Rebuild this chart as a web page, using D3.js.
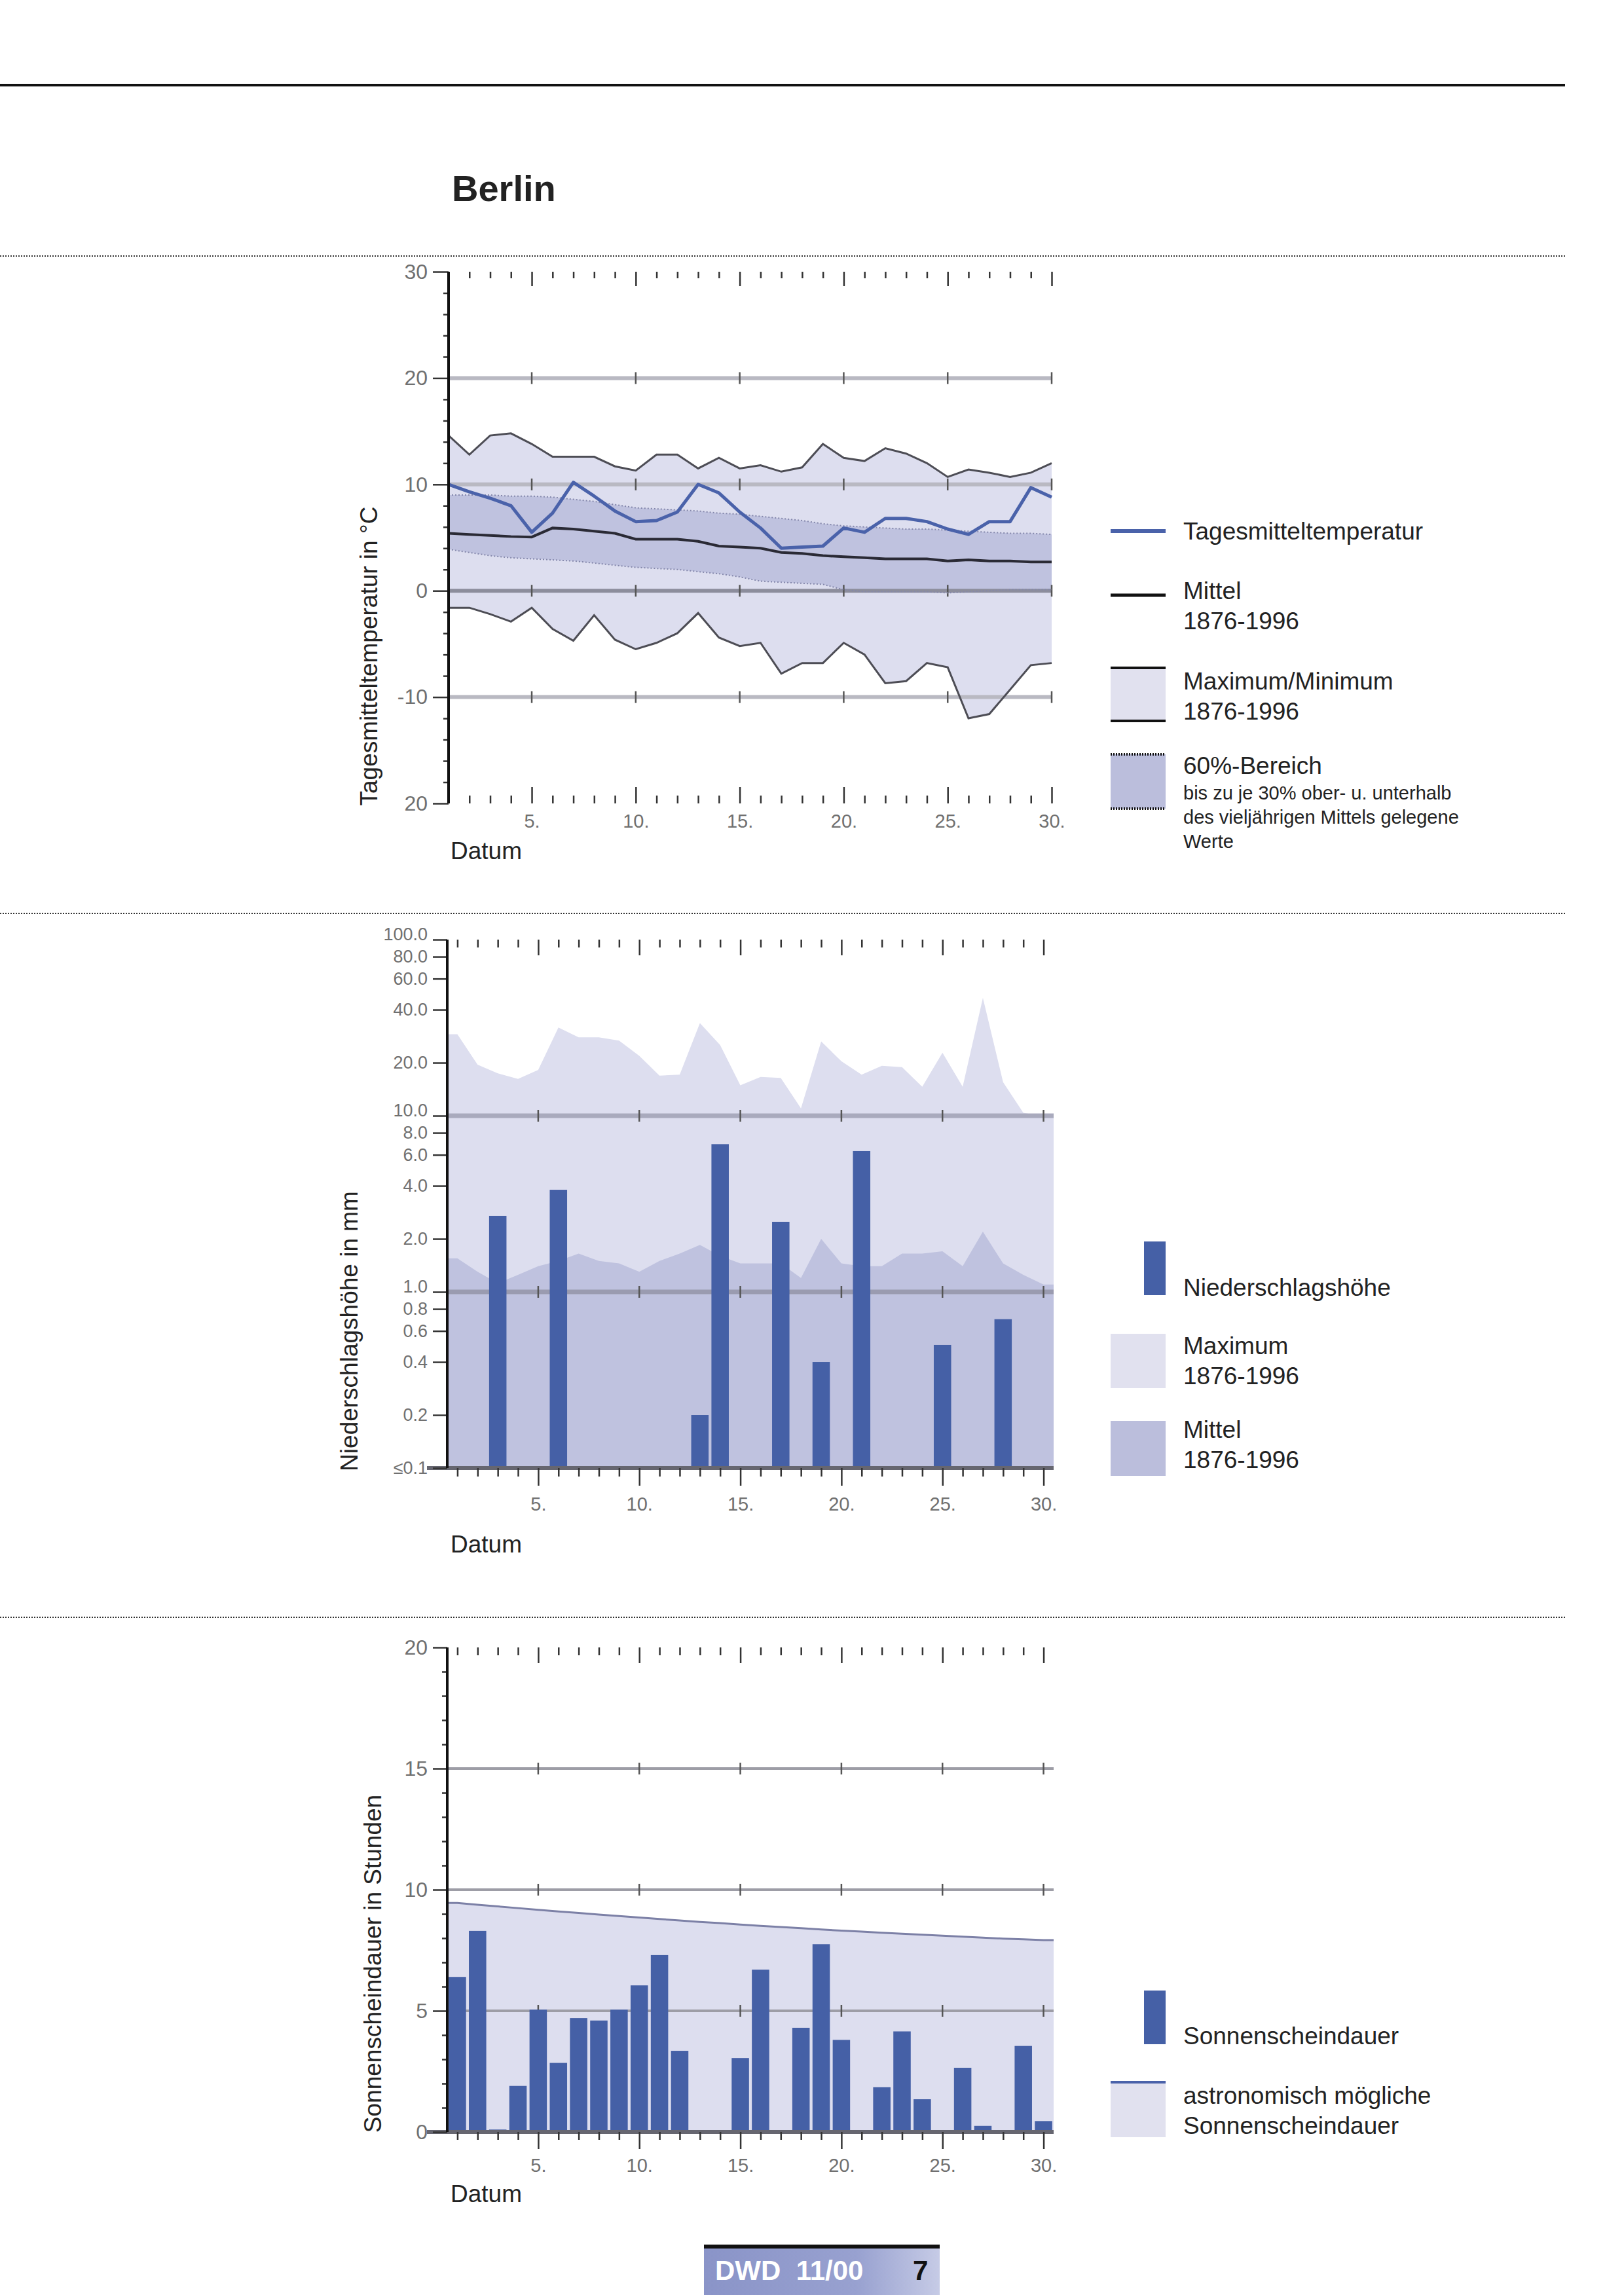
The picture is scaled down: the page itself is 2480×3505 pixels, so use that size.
<!DOCTYPE html>
<html lang="de">
<head>
<meta charset="UTF-8">
<title>Berlin – Temperatur, Niederschlag, Sonnenschein</title>
<style>
    body { margin: 0; padding: 0; background: #fff; }
    svg { display: block; }
    text { font-family: "Liberation Sans", Arial, sans-serif; fill: #222; }
    .tick text { fill: #707070; }
    .tick line { stroke: #333; }
</style>
</head>
<body>
<div id="page"></div>
<script src="https://cdnjs.cloudflare.com/ajax/libs/d3/7.8.5/d3.min.js"></script>
<script>
// Tage im Monat
const days = [1,2,3,4,5,6,7,8,9,10,11,12,13,14,15,16,17,18,19,20,21,22,23,24,25,26,27,28,29,30];
const fiveDays = [5, 10, 15, 20, 25, 30];

// Temperatur (°C)
const tempDaily  = [10.0, 9.3, 8.7, 8.0, 5.5, 7.3, 10.2, 8.9, 7.5, 6.5, 6.6, 7.4, 10.0, 9.2, 7.4, 5.9, 4.0, 4.1, 4.2, 5.9, 5.5, 6.8, 6.8, 6.5, 5.8, 5.3, 6.5, 6.5, 9.7, 8.8];
const tempNormal = [5.4, 5.3, 5.2, 5.1, 5.05, 5.9, 5.8, 5.6, 5.4, 4.85, 4.85, 4.85, 4.65, 4.2, 4.1, 4.0, 3.6, 3.5, 3.3, 3.2, 3.1, 3.0, 3.0, 3.0, 2.8, 2.9, 2.8, 2.8, 2.7, 2.7];
const tempMax    = [14.6, 12.8, 14.6, 14.8, 13.8, 12.6, 12.6, 12.6, 11.7, 11.3, 12.8, 12.8, 11.5, 12.5, 11.5, 11.8, 11.2, 11.6, 13.8, 12.5, 12.2, 13.4, 12.9, 12.0, 10.7, 11.4, 11.1, 10.7, 11.1, 12.0];
const tempMin    = [-1.6, -1.6, -2.2, -2.9, -1.6, -3.6, -4.7, -2.3, -4.6, -5.5, -4.9, -4.0, -2.1, -4.4, -5.2, -4.9, -7.8, -6.8, -6.8, -4.9, -6.0, -8.7, -8.5, -6.8, -7.2, -12.0, -11.6, -9.3, -7.0, -6.8];
const temp60Up   = [9.0, 9.0, 9.0, 8.9, 8.9, 8.8, 8.6, 8.4, 8.1, 7.8, 7.7, 7.6, 7.5, 7.3, 7.2, 7.0, 6.8, 6.6, 6.3, 6.1, 6.0, 5.9, 5.8, 5.8, 5.7, 5.6, 5.5, 5.4, 5.4, 5.3];
const temp60Low  = [3.9, 3.6, 3.3, 3.1, 3.0, 2.9, 2.8, 2.6, 2.4, 2.2, 2.1, 2.0, 1.8, 1.6, 1.3, 0.9, 0.8, 0.7, 0.6, 0.1, -0.1, -0.1, -0.1, -0.1, -0.2, -0.1, 0.0, 0.1, 0.1, 0.1];
const tempTicks  = [30, 20, 10, 0, -10, -20];
const tempTickLabels = ["30", "20", "10", "0", "-10", "20"];
const tempMinor  = [28, 26, 24, 22, 18, 16, 14, 12, 8, 6, 4, 2, -2, -4, -6, -8, -12, -14, -16, -18];
const tempGrid   = [20, 10, 0, -10];

// Niederschlag (mm), 0 = kein Niederschlag
const precip     = [0, 0, 2.7, 0, 0, 3.8, 0, 0, 0, 0, 0, 0, 0.2, 6.9, 0, 0, 2.5, 0, 0.4, 0, 6.3, 0, 0, 0, 0.5, 0, 0, 0.7, 0, 0];
const precipMax  = [29.0, 19.5, 17.4, 16.2, 18.2, 31.7, 27.9, 27.9, 26.7, 21.9, 16.9, 17.1, 33.6, 25.2, 14.9, 16.6, 16.4, 11.0, 26.4, 20.4, 17.1, 19.2, 18.9, 14.6, 22.8, 14.6, 46.7, 15.5, 10.4, 9.9];
const precipMean = [1.55, 1.3, 1.12, 1.25, 1.4, 1.5, 1.65, 1.5, 1.45, 1.3, 1.5, 1.65, 1.85, 1.6, 1.45, 1.45, 1.45, 1.2, 2.0, 1.45, 1.4, 1.4, 1.65, 1.65, 1.7, 1.4, 2.2, 1.45, 1.25, 1.1];
const precipTicks = [100, 80, 60, 40, 20, 10, 8, 6, 4, 2, 1, 0.8, 0.6, 0.4, 0.2, 0.1];
const precipTickLabels = ["100.0", "80.0", "60.0", "40.0", "20.0", "10.0", "8.0", "6.0", "4.0", "2.0", "1.0", "0.8", "0.6", "0.4", "0.2", "≤0.1"];
const precipRaised = [100, 10, 1];
const precipGrid = [10, 1];

// Sonnenschein (Stunden)
const sunshine   = [6.4, 8.3, 0.1, 1.9, 5.05, 2.85, 4.7, 4.6, 5.05, 6.05, 7.3, 3.35, 0, 0, 3.05, 6.7, 0, 4.3, 7.75, 3.8, 0, 1.85, 4.15, 1.35, 0, 2.65, 0.25, 0, 3.55, 0.45];
const sunAstro   = [9.45, 9.38, 9.31, 9.24, 9.17, 9.10, 9.04, 8.97, 8.91, 8.85, 8.79, 8.73, 8.67, 8.62, 8.56, 8.51, 8.46, 8.41, 8.36, 8.31, 8.27, 8.22, 8.18, 8.14, 8.10, 8.06, 8.02, 7.98, 7.95, 7.92];
const sunTicks   = [20, 15, 10, 5, 0];
const sunMinor   = [1, 2, 3, 4, 6, 7, 8, 9, 11, 12, 13, 14, 16, 17, 18, 19];
const sunGrid    = [15, 10, 5];

const colLight = "#dddeef";
const colMid = "#bfc2df";
const colBar = "#4560a6";
const colBlue = "#4a62aa";

const svg = d3.select("#page").append("svg")
    .attr("width", 2480).attr("height", 3505)
    .attr("viewBox", "0 0 2480 3505");

// Kopf
svg.append("line").attr("x1", 0).attr("x2", 2390).attr("y1", 130).attr("y2", 130)
    .attr("stroke", "#111").attr("stroke-width", 4);
svg.append("text").attr("x", 690).attr("y", 307).text("Berlin")
    .attr("font-size", 56).attr("font-weight", "bold");
[391, 1395, 2470].forEach(y => {
    svg.append("line").attr("x1", 0).attr("x2", 2390).attr("y1", y).attr("y2", y)
        .attr("stroke", "#333").attr("stroke-width", 2).attr("stroke-dasharray", "2,2");
});

function styleAxis(sel, size) {
    sel.select(".domain").remove();
    sel.selectAll(".tick line").attr("stroke", "#333").attr("stroke-width", 2.5);
    sel.selectAll(".tick text").attr("font-size", size).attr("fill", "#6a6a6a");
}

function dayTicks(xs, y, down, small, long, withFirst) {
    const ax = down ? d3.axisBottom : d3.axisTop;
    svg.append("g").attr("transform", `translate(0,${y})`)
        .call(ax(xs).tickValues(days.filter(d => d % 5 && (withFirst || d > 1))).tickSize(small).tickFormat(""))
        .call(s => styleAxis(s, 0));
    svg.append("g").attr("transform", `translate(0,${y})`)
        .call(ax(xs).tickValues(fiveDays).tickSize(long).tickFormat(""))
        .call(s => styleAxis(s, 0));
}

function dayLabels(xs, y, pad) {
    svg.append("g").attr("transform", `translate(0,${y})`)
        .call(d3.axisBottom(xs).tickValues(fiveDays).tickSize(0).tickPadding(pad).tickFormat(d => d + "."))
        .call(s => styleAxis(s, 29));
}

function gridLines(xs, ys, values, x0, x1, color, width) {
    svg.append("g").selectAll("line").data(values).join("line")
        .attr("x1", x0).attr("x2", x1)
        .attr("y1", d => ys(d)).attr("y2", d => ys(d))
        .attr("stroke", typeof color === "function" ? color : () => color)
        .attr("stroke-width", width);
    const marks = [];
    values.forEach(v => fiveDays.forEach(d => marks.push([d, v])));
    svg.append("g").selectAll("line").data(marks).join("line")
        .attr("x1", d => xs(d[0])).attr("x2", d => xs(d[0]))
        .attr("y1", d => ys(d[1]) - 9).attr("y2", d => ys(d[1]) + 9)
        .attr("stroke", "#555").attr("stroke-width", 2.5);
}

function axisLabel(x, y, label) {
    svg.append("text").attr("transform", `translate(${x},${y}) rotate(-90)`)
        .attr("text-anchor", "middle").attr("font-size", 37).text(label);
}

// ---------- 1. Temperatur ----------
const x1 = d3.scaleLinear().domain([1, 30]).range([685, 1606]);
const y1 = d3.scaleLinear().domain([-20, 30]).range([1227, 415]);
const tData = days.map((d, i) => ({ d, daily: tempDaily[i], normal: tempNormal[i], max: tempMax[i], min: tempMin[i], up: temp60Up[i], low: temp60Low[i] }));

svg.append("path").datum(tData).attr("fill", colLight)
    .attr("d", d3.area().x(p => x1(p.d)).y0(p => y1(p.min)).y1(p => y1(p.max)));
svg.append("path").datum(tData).attr("fill", colMid)
    .attr("d", d3.area().x(p => x1(p.d)).y0(p => y1(p.low)).y1(p => y1(p.up)));

gridLines(x1, y1, tempGrid, 685, 1606, d => d === 0 ? "#8c8d9c" : "#b9b9c2", 6);

["up", "low"].forEach(k => {
    svg.append("path").datum(tData).attr("fill", "none").attr("stroke", "#8487ab")
        .attr("stroke-width", 2).attr("stroke-dasharray", "2,3")
        .attr("d", d3.line().x(p => x1(p.d)).y(p => y1(p[k])));
});
["max", "min"].forEach(k => {
    svg.append("path").datum(tData).attr("fill", "none").attr("stroke", "#4d4d55")
        .attr("stroke-width", 3).attr("d", d3.line().x(p => x1(p.d)).y(p => y1(p[k])));
});
svg.append("path").datum(tData).attr("fill", "none").attr("stroke", "#2a2a35")
    .attr("stroke-width", 4).attr("d", d3.line().x(p => x1(p.d)).y(p => y1(p.normal)));
svg.append("path").datum(tData).attr("fill", "none").attr("stroke", colBlue)
    .attr("stroke-width", 5).attr("stroke-linejoin", "round")
    .attr("d", d3.line().x(p => x1(p.d)).y(p => y1(p.daily)));

dayTicks(x1, 415, true, 10, 22, false);
dayTicks(x1, 1227, false, 12, 25, false);
dayLabels(x1, 1227, 16);

svg.append("g").attr("transform", "translate(685,0)")
    .call(d3.axisLeft(y1).tickValues(tempMinor).tickSize(8).tickFormat(""))
    .call(s => styleAxis(s, 0));
svg.append("g").attr("transform", "translate(685,0)")
    .call(d3.axisLeft(y1).tickValues(tempTicks).tickSize(24).tickPadding(8)
        .tickFormat((d, i) => tempTickLabels[i]))
    .call(s => styleAxis(s, 32));
svg.append("line").attr("x1", 685).attr("x2", 685).attr("y1", y1(30)).attr("y2", y1(-20))
    .attr("stroke", "#111").attr("stroke-width", 4);

axisLabel(576, 1002, "Tagesmitteltemperatur in °C");
svg.append("text").attr("x", 688).attr("y", 1312).attr("font-size", 37).text("Datum");

// ---------- 2. Niederschlag ----------
const xl2 = d3.scaleLinear().domain([0.5, 30.5]).range([683, 1609]);
const xb2 = d3.scaleBand().domain(days).range([683, 1609]).paddingInner(0.14).paddingOuter(0.07);
const y2 = d3.scaleLog().domain([0.1, 100]).range([2242, 1435]);

function edgePoints(values) {
    const pts = days.map((d, i) => ({ d, v: values[i] }));
    return [{ d: 0.5, v: values[0] }, ...pts, { d: 30.5, v: values[values.length - 1] }];
}
svg.append("path").datum(edgePoints(precipMax)).attr("fill", colLight)
    .attr("d", d3.area().x(p => xl2(p.d)).y0(y2(0.1)).y1(p => y2(p.v)));
svg.append("path").datum(edgePoints(precipMean)).attr("fill", colMid)
    .attr("d", d3.area().x(p => xl2(p.d)).y0(y2(0.1)).y1(p => y2(p.v)));

gridLines(xl2, y2, precipGrid, 683, 1609, d => d === 1 ? "#9a9bb0" : "#a9aabd", 7);

svg.append("g").selectAll("rect").data(days.filter((d, i) => precip[i] > 0)).join("rect")
    .attr("x", d => xb2(d)).attr("width", xb2.bandwidth())
    .attr("y", d => y2(precip[d - 1])).attr("height", d => y2(0.1) - y2(precip[d - 1]))
    .attr("fill", colBar);

svg.append("line").attr("x1", 652).attr("x2", 1609).attr("y1", y2(0.1)).attr("y2", y2(0.1))
    .attr("stroke", "#666670").attr("stroke-width", 6);

dayTicks(xl2, 1435, true, 12, 24, true);
dayTicks(xl2, 2242, true, 13, 27, true);
dayLabels(xl2, 2242, 44);

svg.append("g").attr("transform", "translate(683,0)")
    .call(d3.axisLeft(y2).tickValues(precipTicks).tickSize(22).tickPadding(8)
        .tickFormat((d, i) => precipTickLabels[i]))
    .call(s => styleAxis(s, 27))
    .call(s => s.selectAll(".tick text").filter(d => precipRaised.includes(d)).attr("y", -8));
svg.append("line").attr("x1", 683).attr("x2", 683).attr("y1", y2(100)).attr("y2", y2(0.1))
    .attr("stroke", "#111").attr("stroke-width", 4);

axisLabel(546, 2033, "Niederschlagshöhe in mm");
svg.append("text").attr("x", 688).attr("y", 2371).attr("font-size", 37).text("Datum");

// ---------- 3. Sonnenschein ----------
const y3 = d3.scaleLinear().domain([0, 20]).range([3256, 2516]);

svg.append("path").datum(edgePoints(sunAstro)).attr("fill", colLight)
    .attr("d", d3.area().x(p => xl2(p.d)).y0(y3(0)).y1(p => y3(p.v)));
svg.append("path").datum(edgePoints(sunAstro)).attr("fill", "none")
    .attr("stroke", "#7c80a6").attr("stroke-width", 3)
    .attr("d", d3.line().x(p => xl2(p.d)).y(p => y3(p.v)));

gridLines(xl2, y3, sunGrid, 683, 1609, "#9d9da6", 4);

svg.append("g").selectAll("rect").data(days.filter((d, i) => sunshine[i] > 0)).join("rect")
    .attr("x", d => xb2(d)).attr("width", xb2.bandwidth())
    .attr("y", d => y3(sunshine[d - 1])).attr("height", d => y3(0) - y3(sunshine[d - 1]))
    .attr("fill", colBar);

svg.append("line").attr("x1", 652).attr("x2", 1609).attr("y1", y3(0)).attr("y2", y3(0))
    .attr("stroke", "#666670").attr("stroke-width", 6);

dayTicks(xl2, 2516, true, 12, 24, true);
dayTicks(xl2, 3256, true, 12, 26, true);
dayLabels(xl2, 3256, 40);

svg.append("g").attr("transform", "translate(683,0)")
    .call(d3.axisLeft(y3).tickValues(sunMinor).tickSize(8).tickFormat(""))
    .call(s => styleAxis(s, 0));
svg.append("g").attr("transform", "translate(683,0)")
    .call(d3.axisLeft(y3).tickValues(sunTicks).tickSize(22).tickPadding(8))
    .call(s => styleAxis(s, 32));
svg.append("line").attr("x1", 683).attr("x2", 683).attr("y1", y3(20)).attr("y2", y3(0))
    .attr("stroke", "#111").attr("stroke-width", 4);

axisLabel(582, 2999, "Sonnenscheindauer in Stunden");
svg.append("text").attr("x", 688).attr("y", 3363).attr("font-size", 37).text("Datum");

// ---------- Legenden ----------
const lx = 1696, lw = 84, tx = 1807;
function legText(lines, y0, step, size) {
    lines.forEach((t, i) => svg.append("text").attr("x", tx).attr("y", y0 + i * step)
        .attr("font-size", size).text(t));
}
function swatch(y, h, fill, edge) {
    svg.append("rect").attr("x", lx).attr("y", y).attr("width", lw).attr("height", h).attr("fill", fill);
    if (edge) {
        [y, y + h].forEach(yy => svg.append("line").attr("x1", lx).attr("x2", lx + lw)
            .attr("y1", yy).attr("y2", yy).attr("stroke", "#111").attr("stroke-width", 4)
            .attr("stroke-dasharray", edge === "dot" ? "2,2" : null));
    }
}

svg.append("line").attr("x1", lx).attr("x2", lx + lw).attr("y1", 811).attr("y2", 811)
    .attr("stroke", colBlue).attr("stroke-width", 6);
legText(["Tagesmitteltemperatur"], 824, 46, 37);
svg.append("line").attr("x1", lx).attr("x2", lx + lw).attr("y1", 909).attr("y2", 909)
    .attr("stroke", "#111").attr("stroke-width", 5);
legText(["Mittel", "1876-1996"], 915, 46, 37);
swatch(1020, 81, "#e1e1ef", "solid");
legText(["Maximum/Minimum", "1876-1996"], 1053, 46, 37);
swatch(1152, 83, "#bbbedc", "dot");
legText(["60%-Bereich"], 1182, 46, 37);
legText(["bis zu je 30% ober- u. unterhalb", "des vieljährigen Mittels gelegene", "Werte"], 1221, 37, 29);

svg.append("rect").attr("x", lx + lw - 33).attr("y", 1896).attr("width", 33).attr("height", 82).attr("fill", colBar);
legText(["Niederschlagshöhe"], 1979, 46, 37);
swatch(2037, 83, "#e1e1ef");
legText(["Maximum", "1876-1996"], 2068, 46, 37);
swatch(2170, 84, "#bbbedc");
legText(["Mittel", "1876-1996"], 2196, 46, 37);

svg.append("rect").attr("x", lx + lw - 33).attr("y", 3040).attr("width", 33).attr("height", 82).attr("fill", colBar);
legText(["Sonnenscheindauer"], 3122, 46, 37);
swatch(3180, 84, "#e1e1ef");
svg.append("line").attr("x1", lx).attr("x2", lx + lw).attr("y1", 3180).attr("y2", 3180)
    .attr("stroke", colBlue).attr("stroke-width", 4);
legText(["astronomisch mögliche", "Sonnenscheindauer"], 3213, 46, 37);

// ---------- Fuß ----------
const grad = svg.append("defs").append("linearGradient").attr("id", "foot")
    .attr("x1", "0%").attr("x2", "100%");
grad.append("stop").attr("offset", "0%").attr("stop-color", "#8a94c8");
grad.append("stop").attr("offset", "65%").attr("stop-color", "#98a1d0");
grad.append("stop").attr("offset", "100%").attr("stop-color", "#c6cbe6");
svg.append("rect").attr("x", 1075).attr("y", 3432).attr("width", 360).attr("height", 73).attr("fill", "url(#foot)");
svg.append("rect").attr("x", 1075).attr("y", 3428).attr("width", 360).attr("height", 6).attr("fill", "#111");
svg.append("text").attr("x", 1092).attr("y", 3482).attr("font-size", 42).attr("font-weight", "bold")
    .style("fill", "#fff").style("white-space", "pre").text("DWD  11/00");
svg.append("text").attr("x", 1394).attr("y", 3482).attr("font-size", 42).attr("font-weight", "bold")
    .style("fill", "#111").text("7");
</script>
</body>
</html>
